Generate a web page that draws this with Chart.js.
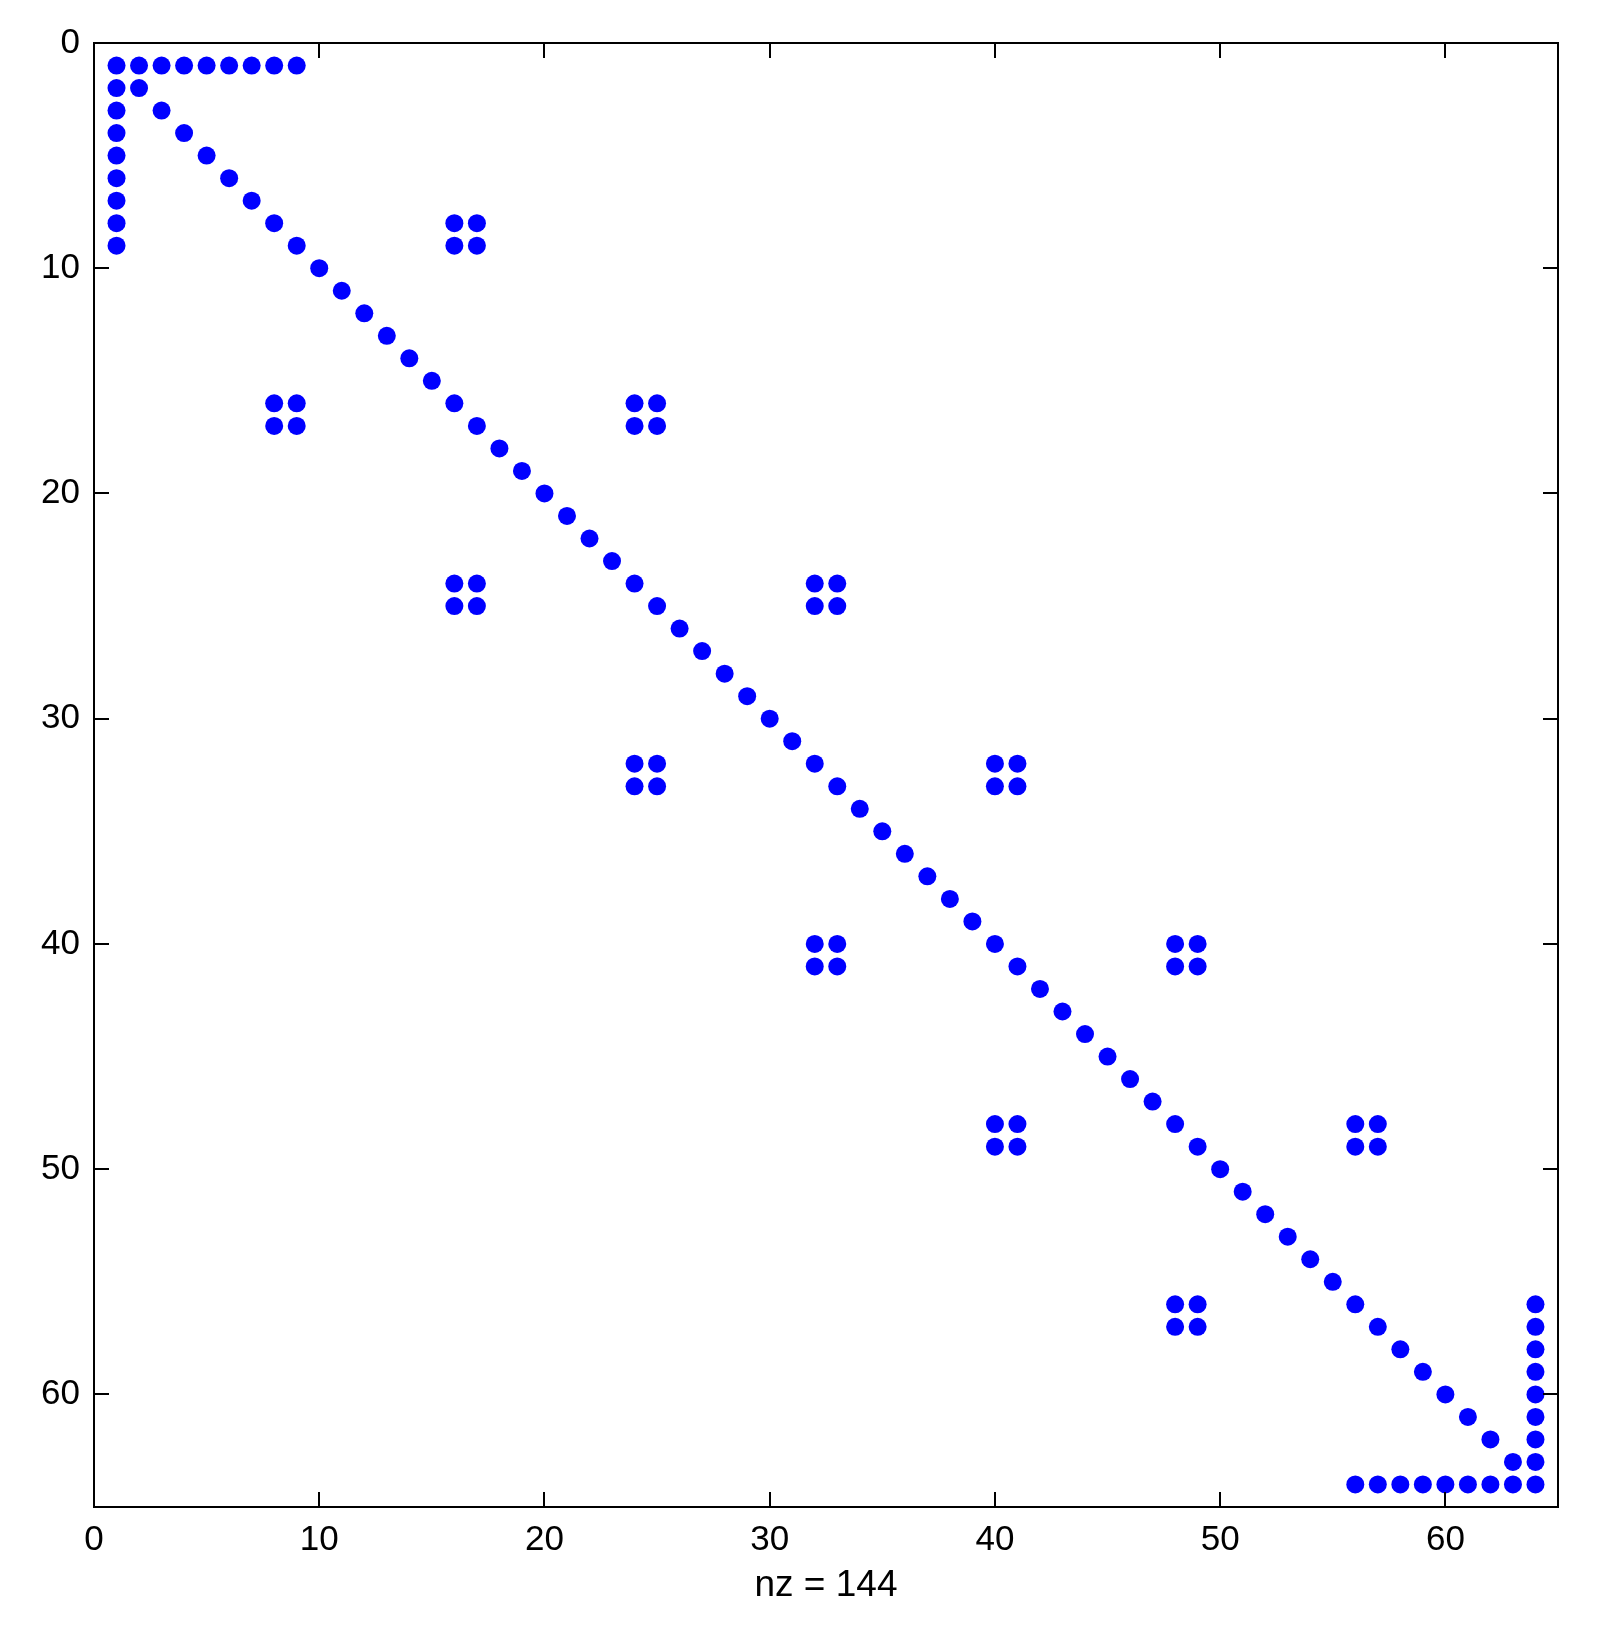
<!DOCTYPE html>
<html>
<head>
<meta charset="utf-8">
<script src="https://cdn.jsdelivr.net/npm/chart.js@4/dist/chart.umd.min.js"></script>
<style>
  html, body { margin: 0; padding: 0; background: #fff; }
  #wrap { width: 1599px; height: 1637px; }
</style>
</head>
<body>
<div id="wrap"><canvas id="spy" width="1599" height="1637"></canvas></div>
<script>
// ── DATA (column, row) of each nonzero ──────────
const firstRowCols = [1, 2, 3, 4, 5, 6, 7, 8, 9];
const firstColRows = [2, 3, 4, 5, 6, 7, 8, 9];
const diagonal = [2, 3, 4, 5, 6, 7, 8, 9, 10, 11, 12, 13, 14, 15, 16, 17, 18, 19, 20,
  21, 22, 23, 24, 25, 26, 27, 28, 29, 30, 31, 32, 33, 34, 35, 36, 37, 38, 39, 40,
  41, 42, 43, 44, 45, 46, 47, 48, 49, 50, 51, 52, 53, 54, 55, 56, 57, 58, 59, 60,
  61, 62, 63];
const blockCols = [
  16, 17, 16, 17,   8, 9, 8, 9,     24, 25, 24, 25,  16, 17, 16, 17,
  32, 33, 32, 33,   24, 25, 24, 25, 40, 41, 40, 41,  32, 33, 32, 33,
  48, 49, 48, 49,   40, 41, 40, 41, 56, 57, 56, 57,  48, 49, 48, 49];
const blockRows = [
  8, 8, 9, 9,       16, 16, 17, 17, 16, 16, 17, 17,  24, 24, 25, 25,
  24, 24, 25, 25,   32, 32, 33, 33, 32, 32, 33, 33,  40, 40, 41, 41,
  40, 40, 41, 41,   48, 48, 49, 49, 48, 48, 49, 49,  56, 56, 57, 57];
const lastRowCols = [56, 57, 58, 59, 60, 61, 62, 63, 64];
const lastColRows = [56, 57, 58, 59, 60, 61, 62, 63];

const axisMax = 65;
const tickStep = 10;
const xTitle = 'nz = 144';

// ── BUILD POINTS ─────────────────────────────────
const points = [];
firstRowCols.forEach(c => points.push({ x: c, y: 1 }));
firstColRows.forEach(r => points.push({ x: 1, y: r }));
diagonal.forEach(d => points.push({ x: d, y: d }));
blockCols.forEach((c, i) => points.push({ x: c, y: blockRows[i] }));
lastRowCols.forEach(c => points.push({ x: c, y: 64 }));
lastColRows.forEach(r => points.push({ x: 64, y: r }));

const FONT = { family: 'Liberation Sans, Arial, sans-serif', size: 35 };
const TITLE_FONT = { family: 'Liberation Sans, Arial, sans-serif', size: 37 };

// only multiples of the step, no tick at the axis end
const stepTicksOnly = s => {
  s.ticks = s.ticks.filter(t => t.value % tickStep === 0);
};

// inward ticks on all four sides plus the box
const boxTicks = {
  id: 'boxTicks',
  afterDraw(chart) {
    const { ctx, chartArea: a, scales } = chart;
    const len = 15;
    ctx.save();
    ctx.strokeStyle = '#000';
    ctx.lineWidth = 2;
    ctx.beginPath();
    scales.x.ticks.forEach(t => {
      const px = Math.round(scales.x.getPixelForValue(t.value));
      ctx.moveTo(px, a.bottom); ctx.lineTo(px, a.bottom - len);
      ctx.moveTo(px, a.top);    ctx.lineTo(px, a.top + len);
    });
    scales.y.ticks.forEach(t => {
      const py = Math.round(scales.y.getPixelForValue(t.value));
      ctx.moveTo(a.left, py);  ctx.lineTo(a.left + len, py);
      ctx.moveTo(a.right, py); ctx.lineTo(a.right - len, py);
    });
    ctx.stroke();
    ctx.strokeRect(a.left, a.top, a.right - a.left, a.bottom - a.top);
    ctx.restore();
  }
};

new Chart(document.getElementById('spy').getContext('2d'), {
  type: 'scatter',
  data: {
    datasets: [{
      data: points,
      backgroundColor: '#0000ff',
      borderWidth: 0,
      pointRadius: 9,
      pointHoverRadius: 9,
    }],
  },
  options: {
    responsive: false,
    animation: false,
    layout: { padding: { left: 0, top: 43, right: 41, bottom: 25 } },
    plugins: { legend: { display: false }, tooltip: { enabled: false } },
    scales: {
      x: {
        type: 'linear',
        min: 0, max: axisMax,
        border: { display: false },
        grid: { display: false, drawTicks: false },
        ticks: { stepSize: tickStep, color: '#000', font: FONT, padding: 12, maxRotation: 0 },
        title: { display: true, text: xTitle, color: '#000', font: TITLE_FONT, padding: { top: 2 } },
        afterBuildTicks: stepTicksOnly,
        afterFit(s) { s.height = 105; },
      },
      y: {
        type: 'linear',
        min: 0, max: axisMax,
        reverse: true,
        border: { display: false },
        grid: { display: false, drawTicks: false },
        ticks: { stepSize: tickStep, color: '#000', font: FONT, padding: 14 },
        afterBuildTicks: stepTicksOnly,
        afterFit(s) { s.width = 94; },
      },
    },
  },
  plugins: [boxTicks],
});
</script>
</body>
</html>
